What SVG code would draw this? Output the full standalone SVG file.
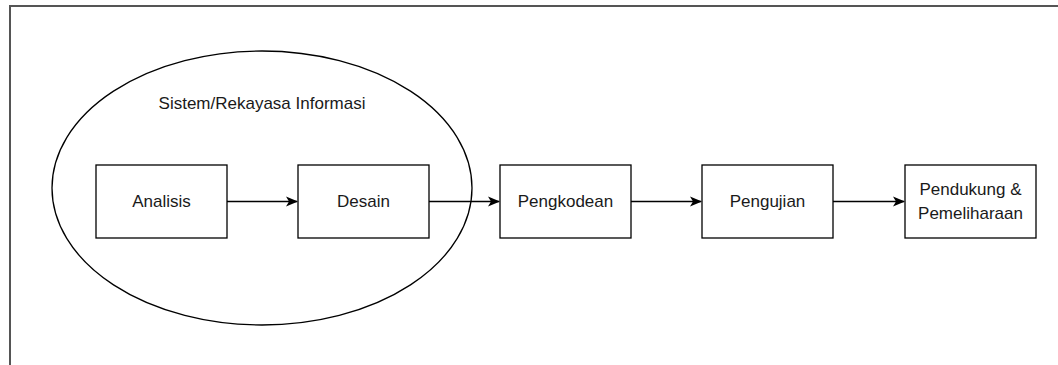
<svg xmlns="http://www.w3.org/2000/svg" width="1058" height="365" viewBox="0 0 1058 365">
<style>
.frame{fill:none;stroke:#555;stroke-width:2}
.box{fill:#fff;stroke:#000;stroke-width:1.3}
.ell{fill:none;stroke:#000;stroke-width:1.3}
.lbl{font-family:"Liberation Sans",Arial,sans-serif;font-size:17px;fill:#1a1a1a;text-anchor:middle;dominant-baseline:central}
.edge{fill:none;stroke:#000;stroke-width:1.3}
</style>
<defs>
<marker id="arr" viewBox="0 0 12 12" refX="11" refY="6" markerWidth="12" markerHeight="12" markerUnits="userSpaceOnUse" orient="auto">
<path d="M0,1 L12,6 L0,11 L3,6 Z" fill="#000"/>
</marker>
</defs>
<rect width="1058" height="365" fill="#fff"/>
<path class="frame" d="M10,365 L10,6 L1058,6"/>
<g id="sistem">
<ellipse class="ell" cx="262" cy="188" rx="210" ry="137"/>
<text class="lbl" x="262" y="103">Sistem/Rekayasa Informasi</text>
</g>
<g id="analisis">
<rect class="box" x="96" y="165" width="131" height="73"/>
<text class="lbl" x="161.5" y="201.5">Analisis</text>
</g>
<g id="desain">
<rect class="box" x="298" y="165" width="131" height="73"/>
<text class="lbl" x="363.5" y="201.5">Desain</text>
</g>
<g id="pengkodean">
<rect class="box" x="500" y="165" width="131" height="73"/>
<text class="lbl" x="565.5" y="201.5">Pengkodean</text>
</g>
<g id="pengujian">
<rect class="box" x="702" y="165" width="131" height="73"/>
<text class="lbl" x="767.5" y="201.5">Pengujian</text>
</g>
<g id="pendukung">
<rect class="box" x="905" y="165" width="131" height="73"/>
<text class="lbl" x="970.5" y="189.5">Pendukung &amp;</text>
<text class="lbl" x="970.5" y="213.5">Pemeliharaan</text>
</g>
<g id="connectors">
<path class="edge" d="M227,201.5 L297,201.5" marker-end="url(#arr)"/>
<path class="edge" d="M429,201.5 L499,201.5" marker-end="url(#arr)"/>
<path class="edge" d="M631,201.5 L701,201.5" marker-end="url(#arr)"/>
<path class="edge" d="M833,201.5 L904,201.5" marker-end="url(#arr)"/>
</g>
</svg>
